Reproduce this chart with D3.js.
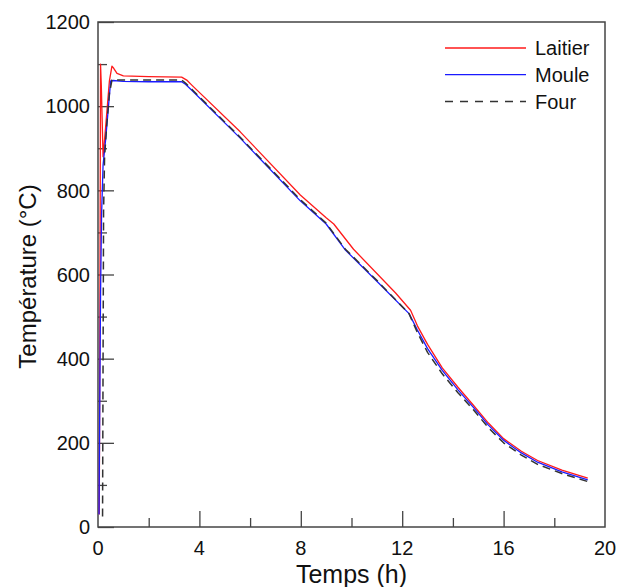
<!DOCTYPE html>
<html>
<head>
<meta charset="utf-8">
<script src="https://cdn.jsdelivr.net/npm/d3@7"></script>
<style>
  html, body { margin: 0; padding: 0; background: #fff; }
  svg { display: block; }
  text { font-family: "Liberation Sans", Arial, sans-serif; fill: #111; }
</style>
</head>
<body>
<svg id="chart" width="627" height="587"></svg>
<script>
// ---- Data ----
const seriesNames = ["Laitier", "Moule", "Four"];
const xTicks = [0, 4, 8, 12, 16, 20];
const yTicks = [0, 200, 400, 600, 800, 1000, 1200];

const laitierT = [0.05, 0.08, 0.10, 0.13, 0.20, 0.30, 0.45, 0.55, 0.62, 0.75, 1.0, 2.0, 3.3, 3.5, 3.7, 5.61, 7.98, 9.0, 9.3, 10.08, 11.74, 12.33, 12.6, 13.0, 13.58, 14.2, 14.8, 15.4, 16.0, 16.7, 17.34, 18.3, 19.32];
const laitierV = [30, 600, 1100, 1050, 880, 950, 1060, 1095, 1090, 1078, 1072, 1070, 1069, 1062, 1050, 939, 789, 735, 720, 660, 556, 515, 478, 434, 378, 332, 290, 247, 210, 180, 158, 135, 116];

const mouleT = [0.04, 0.07, 0.10, 0.14, 0.20, 0.30, 0.40, 0.50, 0.60, 1.0, 2.0, 3.3, 3.45, 3.7, 5.61, 7.98, 9.0, 9.76, 11.0, 12.27, 12.6, 13.0, 13.58, 14.2, 14.8, 15.4, 16.0, 16.7, 17.34, 18.3, 19.32];
const mouleV = [30, 300, 550, 740, 860, 920, 990, 1060, 1061, 1059, 1058, 1058, 1052, 1038, 924, 775, 720, 658, 584, 507, 468, 424, 372, 326, 285, 242, 206, 176, 154, 131, 112];

const fourT = [0.18, 0.20, 0.22, 0.26, 0.35, 0.45, 0.55, 1.0, 2.0, 3.3, 3.45, 3.7, 5.61, 7.98, 9.0, 9.76, 11.0, 12.27, 12.6, 13.0, 13.58, 14.2, 14.8, 15.4, 16.0, 16.7, 17.34, 18.3, 19.32];
const fourV = [25, 400, 750, 880, 960, 1030, 1062, 1062, 1062, 1062, 1055, 1040, 926, 778, 722, 660, 586, 507, 462, 415, 364, 319, 279, 236, 200, 171, 149, 127, 108];

// ---- Layout ----
const svg = d3.select("#chart");
const L = 98, R = 605, T = 22, B = 527;
const x = d3.scaleLinear().domain([0, 20]).range([L, R]);
const y = d3.scaleLinear().domain([0, 1200]).range([B, T]);

const axisColor = "#444";

// frame
svg.append("rect").attr("x", L).attr("y", T).attr("width", R - L).attr("height", B - T)
  .attr("fill", "none").attr("stroke", axisColor).attr("stroke-width", 1.5);

// y ticks (inside)
const yAxis = d3.axisRight(y).tickValues(yTicks).tickSize(16).tickFormat("");
const gy = svg.append("g").attr("transform", `translate(${L},0)`).call(yAxis);
gy.select(".domain").remove();
gy.selectAll("line").attr("stroke", axisColor).attr("stroke-width", 1.3);
const yMinor = d3.axisRight(y).tickValues(d3.range(100, 1200, 200)).tickSize(9).tickFormat("");
const gym = svg.append("g").attr("transform", `translate(${L},0)`).call(yMinor);
gym.select(".domain").remove();
gym.selectAll("line").attr("stroke", axisColor).attr("stroke-width", 1.3);

// x ticks (inside)
const xAxis = d3.axisTop(x).tickValues(xTicks.slice(1, -1)).tickSize(16).tickFormat("");
const gx = svg.append("g").attr("transform", `translate(0,${B})`).call(xAxis);
gx.select(".domain").remove();
gx.selectAll("line").attr("stroke", axisColor).attr("stroke-width", 1.3);
const xMinor = d3.axisTop(x).tickValues(d3.range(2, 20, 4)).tickSize(9).tickFormat("");
const gxm = svg.append("g").attr("transform", `translate(0,${B})`).call(xMinor);
gxm.select(".domain").remove();
gxm.selectAll("line").attr("stroke", axisColor).attr("stroke-width", 1.3);

// tick labels
svg.append("g").selectAll("text").data(yTicks).join("text")
  .attr("x", L - 8).attr("y", d => y(d)).attr("dy", "0.36em")
  .attr("text-anchor", "end").attr("font-size", 20).text(d => d);
svg.append("g").selectAll("text").data(xTicks).join("text")
  .attr("x", d => x(d)).attr("y", B + 28)
  .attr("text-anchor", "middle").attr("font-size", 20).text(d => d);

// axis titles
svg.append("text").attr("x", (L + R) / 2).attr("y", 583)
  .attr("text-anchor", "middle").attr("font-size", 25).text("Temps (h)");
svg.append("text").attr("transform", `translate(36,${(T + B) / 2 + 2}) rotate(-90)`)
  .attr("text-anchor", "middle").attr("font-size", 24).text("Température (°C)");

// lines
const line = d3.line().x(d => x(d[0])).y(d => y(d[1]));
const series = [
  { name: seriesNames[0], pts: d3.zip(laitierT, laitierV), color: "#ff1a1a", dash: null, w: 1.3 },
  { name: seriesNames[1], pts: d3.zip(mouleT, mouleV), color: "#1a1aff", dash: null, w: 1.3 },
  { name: seriesNames[2], pts: d3.zip(fourT, fourV), color: "#333", dash: "8,5", w: 1.5 }
];
svg.append("clipPath").attr("id", "clip").append("rect")
  .attr("x", L).attr("y", T).attr("width", R - L).attr("height", B - T);
svg.append("g").attr("clip-path", "url(#clip)").selectAll("path").data(series).join("path")
  .attr("d", d => line(d.pts)).attr("fill", "none")
  .attr("stroke", d => d.color).attr("stroke-width", d => d.w)
  .attr("stroke-dasharray", d => d.dash)
  .attr("stroke-linejoin", "round");

// legend
const lg = svg.append("g");
series.forEach((s, i) => {
  const yy = 48 + i * 26.7;
  lg.append("line").attr("x1", 445).attr("x2", 526).attr("y1", yy).attr("y2", yy)
    .attr("stroke", s.color).attr("stroke-width", s.w).attr("stroke-dasharray", s.dash ? "8,7" : null);
  lg.append("text").attr("x", 535).attr("y", yy).attr("dy", "0.36em")
    .attr("font-size", 20).text(s.name);
});
</script>
</body>
</html>
